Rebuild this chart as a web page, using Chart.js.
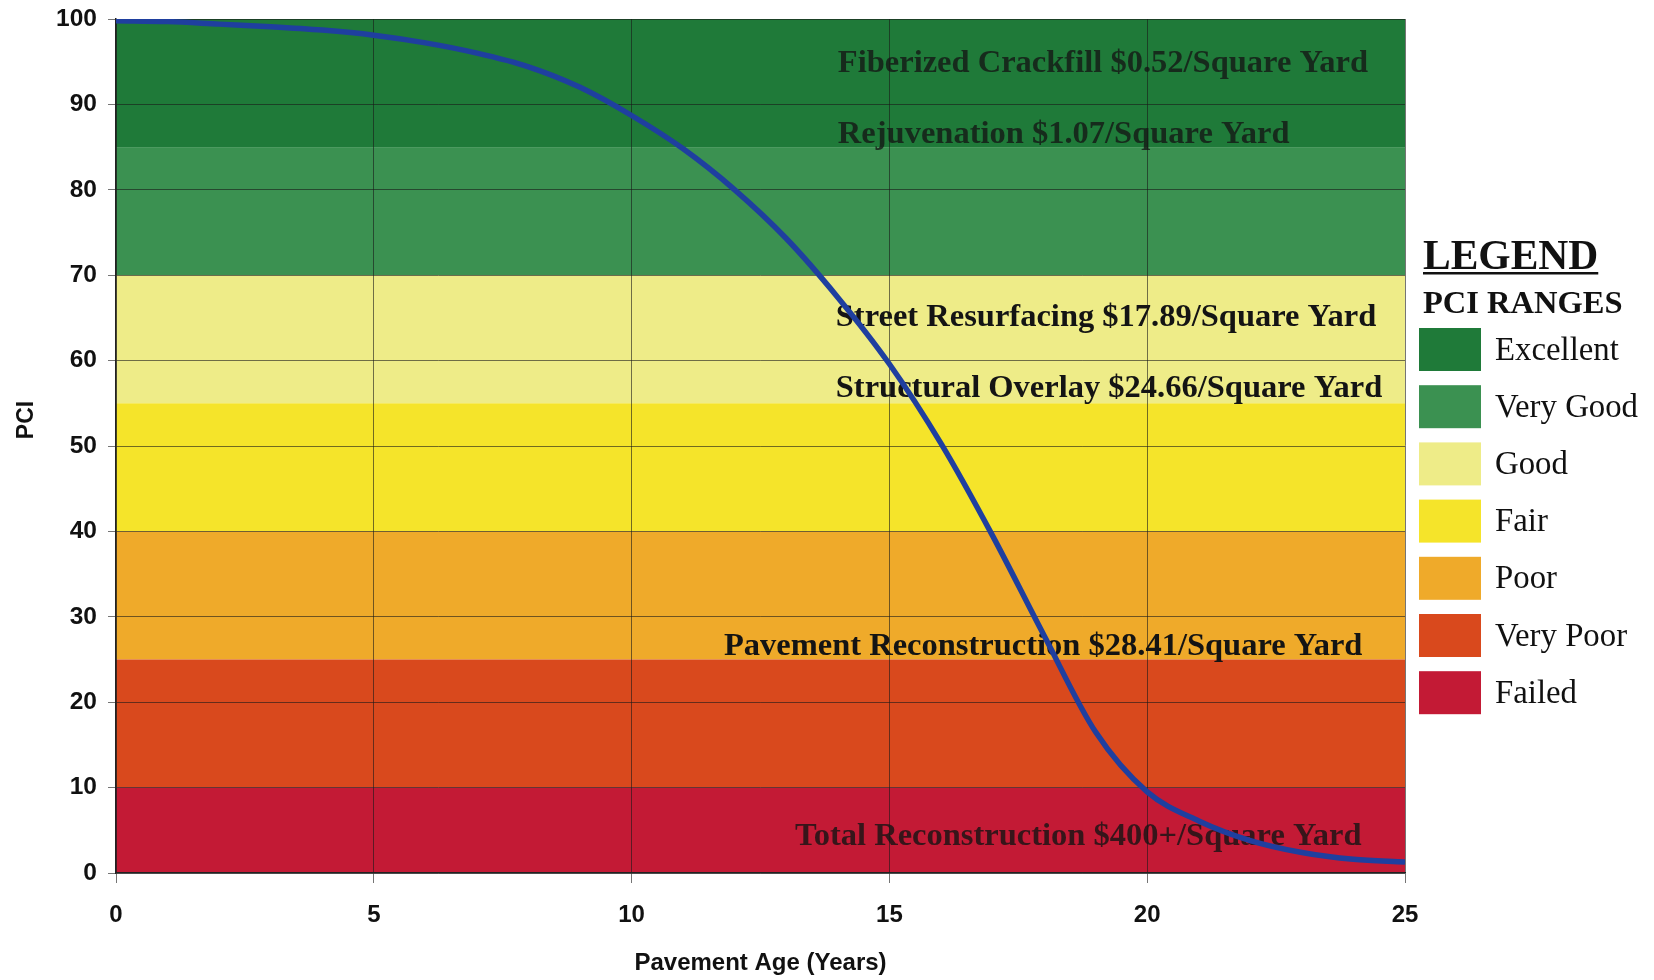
<!DOCTYPE html>
<html><head><meta charset="utf-8">
<script src="https://cdn.jsdelivr.net/npm/chart.js@4.4.1/dist/chart.umd.min.js"></script>
<style>html,body{margin:0;padding:0;background:#fff;} #wrap{width:1654px;height:980px;}</style>
</head><body><div id="wrap"><canvas id="c" width="1654" height="980"></canvas></div>
<script>
// ---- data ----
const ageYears  = [0, 1, 2, 3, 4, 5, 6, 7, 8, 9, 10, 11, 12, 13, 14, 15, 16, 17, 18, 19, 20, 21, 22, 23, 24, 25];
const pciValues = [99.8, 99.7, 99.4, 99.1, 98.7, 98.1, 97.2, 96, 94.4, 92, 88.7, 84.8, 80, 74.3, 67.4, 59.6, 50.3, 39.5, 27.8, 16.5, 9.5, 6.1, 3.8, 2.4, 1.6, 1.3];

const bandNames = ['Excellent', 'Very Good', 'Good', 'Fair', 'Poor', 'Very Poor', 'Failed'];
const bandHigh  = [100, 85, 70, 55, 40, 25, 10];
const bandLow   = [85, 70, 55, 40, 25, 10, 0];

const noteText = [
  'Fiberized Crackfill $0.52/Square Yard',
  'Rejuvenation $1.07/Square Yard',
  'Street Resurfacing $17.89/Square Yard',
  'Structural Overlay $24.66/Square Yard',
  'Pavement Reconstruction $28.41/Square Yard',
  'Total Reconstruction $400+/Square Yard'
];
const noteAge = [14.0, 14.0, 13.96, 13.96, 11.79, 13.17];
const notePci = [94.8, 86.5, 65.0, 56.7, 26.5, 4.3];

const xTickStep = 5, yTickStep = 10;
const xMin = 0, xMax = 25, yMin = 0, yMax = 100;

// ---- styles ----
const bandColors = ['#1f7a39', '#3b9151', '#eeec88', '#f5e42a', '#efaa2a', '#d9491d', '#c31a35'];
const noteAlpha = [0.78, 0.78, 1, 1, 1, 0.8];
const SERIF = '"Liberation Serif", "Times New Roman", serif';
const SANS = '"Liberation Sans", Arial, sans-serif';

const bandsPlugin = {
  id: 'bands',
  beforeDraw(chart) {
    const {ctx, scales: {x, y}} = chart;
    const l = x.getPixelForValue(xMin), r = x.getPixelForValue(xMax);
    ctx.save();
    for (let i = 0; i < bandNames.length; i++) {
      const t = y.getPixelForValue(bandHigh[i]), b = y.getPixelForValue(bandLow[i]);
      ctx.fillStyle = bandColors[i];
      ctx.fillRect(l, t, r - l, b - t);
    }
    ctx.restore();
  }
};

const notesPlugin = {
  id: 'notes',
  beforeDatasetsDraw(chart) {
    const {ctx, scales: {x, y}} = chart;
    ctx.save();
    ctx.font = 'bold 32.5px ' + SERIF;
    ctx.textAlign = 'left';
    ctx.textBaseline = 'middle';
    for (let i = 0; i < noteText.length; i++) {
      ctx.globalAlpha = noteAlpha[i];
      ctx.fillStyle = '#141414';
      ctx.fillText(noteText[i], x.getPixelForValue(noteAge[i]), y.getPixelForValue(notePci[i]));
    }
    ctx.restore();
  }
};

const legendPlugin = {
  id: 'pciLegend',
  afterDraw(chart) {
    const {ctx, chartArea} = chart;
    const lx = chartArea.right + 18;
    ctx.save();
    ctx.fillStyle = '#111';
    ctx.textAlign = 'left';
    ctx.textBaseline = 'alphabetic';
    ctx.font = 'bold 41.5px ' + SERIF;
    ctx.fillText('LEGEND', lx, 269);
    const w = ctx.measureText('LEGEND').width;
    ctx.fillRect(lx, 272, w, 2.5);
    ctx.font = 'bold 32.5px ' + SERIF;
    ctx.fillText('PCI RANGES', lx, 313);
    ctx.font = '32.8px ' + SERIF;
    ctx.textBaseline = 'middle';
    for (let i = 0; i < bandNames.length; i++) {
      const top = 328 + i * 57.2;
      ctx.fillStyle = bandColors[i];
      ctx.fillRect(lx - 4, top, 62, 43);
      ctx.fillStyle = '#111';
      ctx.fillText(bandNames[i], lx + 72, top + 23);
    }
    // y-axis title
    ctx.translate(27, 420);
    ctx.rotate(-Math.PI / 2);
    ctx.font = 'bold 23px ' + SANS;
    ctx.textAlign = 'center';
    ctx.fillText('PCI', 0, 0);
    ctx.restore();
  }
};

new Chart(document.getElementById('c'), {
  type: 'line',
  data: {
    datasets: [{
      data: ageYears.map((a, i) => ({x: a, y: pciValues[i]})),
      borderColor: '#1f3f9f',
      borderWidth: 5.5,
      pointRadius: 0,
      cubicInterpolationMode: 'monotone',
      fill: false
    }]
  },
  options: {
    responsive: false,
    animation: false,
    layout: {padding: {top: 19, right: 249, left: 0, bottom: 0}},
    plugins: {legend: {display: false}, tooltip: {enabled: false}},
    scales: {
      x: {
        type: 'linear', min: xMin, max: xMax,
        ticks: {stepSize: xTickStep, color: '#111', padding: 18, font: {family: SANS, weight: 'bold', size: 24}},
        grid: {color: 'rgba(25,25,25,0.6)', lineWidth: 1, tickLength: 10},
        border: {color: '#222', width: 1.5},
        title: {display: true, text: 'Pavement Age (Years)', color: '#111', padding: {top: 0, bottom: 2}, font: {family: SANS, weight: 'bold', size: 24}},
        afterFit(s) { s.height = 107; s.paddingLeft = 0; s.paddingRight = 0; }
      },
      y: {
        min: yMin, max: yMax,
        ticks: {stepSize: yTickStep, color: '#111', padding: 11, font: {family: SANS, weight: 'bold', size: 24.5}},
        grid: {color: 'rgba(25,25,25,0.6)', lineWidth: 1, tickLength: 8},
        border: {color: '#222', width: 1.5},
        afterFit(s) { s.width = 116; s.paddingTop = 0; s.paddingBottom = 0; }
      }
    }
  },
  plugins: [bandsPlugin, notesPlugin, legendPlugin]
});
</script>
</body></html>
